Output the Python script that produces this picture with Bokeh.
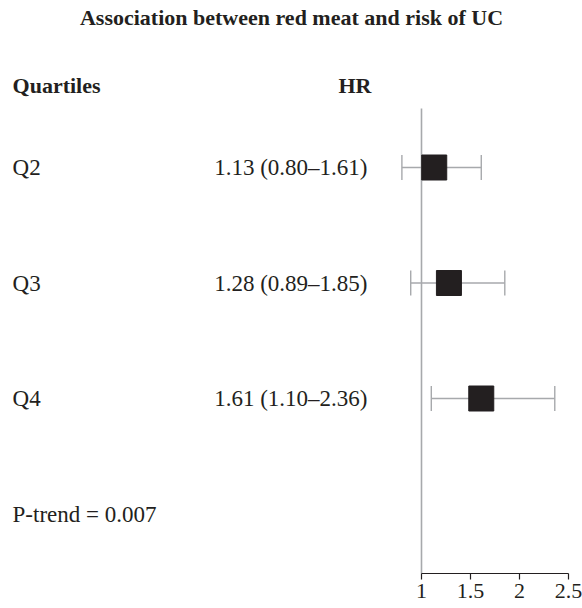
from bokeh.plotting import figure
from bokeh.models import Range1d, FixedTicker, NumeralTickFormatter
from bokeh.core.properties import value
from bokeh.embed import file_html
from bokeh.resources import INLINE

# ---- data ----
title_text = "Association between red meat and risk of UC"
col_headers = ["Quartiles", "HR"]
quartiles = ["Q2", "Q3", "Q4"]
hr = [1.13, 1.28, 1.61]
ci_low = [0.80, 0.89, 1.10]
ci_high = [1.61, 1.85, 2.36]
p_trend_label = "P-trend = 0.007"
x_ticks = [1, 1.5, 2, 2.5]
ref_value = 1

hr_labels = [f"{h:.2f} ({l:.2f}\u2013{u:.2f})" for h, l, u in zip(hr, ci_low, ci_high)]
n = len(quartiles)
rows = [n - i for i in range(n)]  # 3, 2, 1
p_row = 0

# ---- layout constants ----
FONT = value("Liberation Serif")
INK = "#231f20"
GREY = "#a7a9ac"
Y_TOP = 4.4459
Y_BOT = -0.5151
X_START = -3.2959
X_END = 2.6429
CAP = 0.108
LEFT_X = -3.173
HR_RIGHT_X = 0.449
HR_HEAD_X = 0.3214
TITLE_X = -0.3265
HEAD_Y = 3.7143
TITLE_Y = 4.2944
REF_TOP = 3.5108

p = figure(width=582, height=608,
           x_range=Range1d(X_START, X_END), y_range=Range1d(Y_BOT, Y_TOP),
           output_backend="svg", toolbar_location=None,
           min_border_left=0, min_border_right=0, min_border_top=0, min_border_bottom=35,
           y_axis_location=None, x_axis_location="below")
p.outline_line_color = None
p.xgrid.visible = False
p.ygrid.visible = False
p.background_fill_color = "white"
p.border_fill_color = "white"

ax = p.xaxis[0]
ax.ticker = FixedTicker(ticks=x_ticks)
ax.formatter = NumeralTickFormatter(format="0.[0]")
ax.bounds = (min(x_ticks), max(x_ticks))
ax.major_label_text_font = "Liberation Serif"
ax.major_label_text_font_size = "22px"
ax.major_label_text_color = INK
ax.major_tick_in = 0
ax.major_tick_out = 6
ax.minor_tick_line_color = None
ax.axis_line_color = INK
ax.major_tick_line_color = INK
ax.axis_line_width = 1.2
ax.major_tick_line_width = 1.2
ax.major_label_standoff = 4

# reference line
p.segment(x0=[ref_value], y0=[Y_BOT], x1=[ref_value], y1=[REF_TOP],
          line_color=GREY, line_width=1.6)

# CI lines and caps
p.segment(x0=ci_low, y0=rows, x1=ci_high, y1=rows, line_color=GREY, line_width=1.4)
p.segment(x0=ci_low, y0=[r - CAP for r in rows], x1=ci_low, y1=[r + CAP for r in rows],
          line_color=GREY, line_width=1.4)
p.segment(x0=ci_high, y0=[r - CAP for r in rows], x1=ci_high, y1=[r + CAP for r in rows],
          line_color=GREY, line_width=1.4)

# point estimates
p.scatter(x=hr, y=rows, marker="square", size=25, fill_color=INK, line_color=INK)

# row labels
p.text(x=[LEFT_X] * n, y=rows, text=quartiles, text_font=FONT, text_font_size="23px",
       text_baseline="middle", text_align="left", text_color=INK)
p.text(x=[HR_RIGHT_X] * n, y=rows, text=hr_labels, text_font=FONT, text_font_size="23px",
       text_baseline="middle", text_align="right", text_color=INK)
p.text(x=[LEFT_X], y=[p_row], text=[p_trend_label], text_font=FONT, text_font_size="23px",
       text_baseline="middle", text_align="left", text_color=INK)

# headers
p.text(x=[LEFT_X], y=[HEAD_Y], text=[col_headers[0]], text_font=FONT, text_font_size="22px",
       text_font_style="bold", text_baseline="middle", text_align="left", text_color=INK)
p.text(x=[HR_HEAD_X], y=[HEAD_Y], text=[col_headers[1]], text_font=FONT, text_font_size="22px",
       text_font_style="bold", text_baseline="middle", text_align="center", text_color=INK)

# title
p.text(x=[TITLE_X], y=[TITLE_Y], text=[title_text], text_font=FONT, text_font_size="22px",
       text_font_style="bold", text_baseline="middle", text_align="center", text_color=INK)

open("out.html", "w").write(file_html(p, INLINE))
